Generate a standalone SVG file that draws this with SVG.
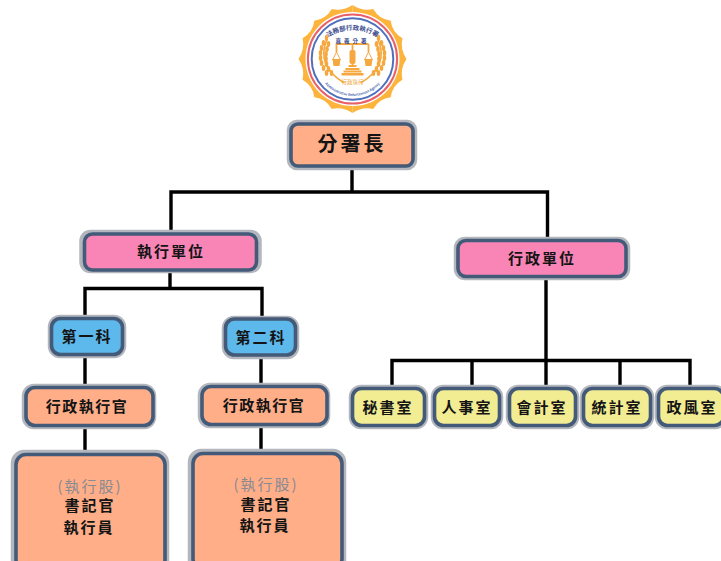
<svg xmlns="http://www.w3.org/2000/svg" xmlns:xlink="http://www.w3.org/1999/xlink" width="721" height="561" viewBox="0 0 721 561">
<style>
.halo{fill:none;stroke:#b3b7bd;stroke-width:6.500}
.box{stroke:#435a78;stroke-width:3.600}
.peach{fill:#ffae88}.pink{fill:#f985b6}.blue{fill:#5db8ec}.yellow{fill:#f2ec92}
text{font-family:"Noto Sans CJK TC","Noto Sans CJK SC",sans-serif;text-anchor:middle;fill:#141414;font-weight:700}
.t{font-size:15px;letter-spacing:2px}
.w{font-size:15px;letter-spacing:1.500px}
.lines{fill:none;stroke:#000;stroke-width:3.400}
.gold{fill:none;stroke:#f5a83f}
.goldf{fill:#f5a83f}
</style>
<defs>
<path id="q" fill="#fdb43c" d="M0,0L0,-54Q9.4,-47.5 20.7,-49.9Q26.8,-39.5 38.2,-38.2Q39.5,-26.8 49.9,-20.7Q47.5,-9.4 54,0Z"/>
<path id="arcTop" d="M-45,16A45,45 0 0 1 45,16"/>
<path id="arcBot" d="M-37,0A37,37 0 0 0 37,0"/>
<g id="wheat">
<path class="gold" stroke-width="1.600" d="M-26,-18C-32,-4 -29,12 -8,24"/>
<g class="goldf">
<ellipse cx="-26" cy="-21" rx="1.700" ry="3.200"/>
<ellipse cx="-29" cy="-16" rx="1.800" ry="2.900"/><ellipse cx="-24" cy="-15" rx="1.800" ry="2.900"/>
<ellipse cx="-31" cy="-11" rx="1.800" ry="2.900"/><ellipse cx="-25.500" cy="-10" rx="1.800" ry="2.900"/>
<ellipse cx="-32" cy="-6" rx="1.800" ry="2.900"/><ellipse cx="-26.500" cy="-5" rx="1.800" ry="2.900"/>
<ellipse cx="-32" cy="-1" rx="1.800" ry="2.900"/><ellipse cx="-26.500" cy="0" rx="1.800" ry="2.900"/>
<ellipse cx="-31" cy="4" rx="1.800" ry="2.900"/><ellipse cx="-26" cy="5" rx="1.800" ry="2.900"/>
<ellipse cx="-29" cy="9" rx="1.800" ry="2.900"/><ellipse cx="-24" cy="10" rx="1.800" ry="2.900"/>
<ellipse cx="-26" cy="14" rx="1.800" ry="2.900"/><ellipse cx="-21" cy="14" rx="1.800" ry="2.900"/>
</g>
</g>
</defs>
<rect width="721" height="561" fill="#fff"/>

<g id="logo" transform="translate(352.5,59)">
<use xlink:href="#q"/><use xlink:href="#q" transform="rotate(90)"/><use xlink:href="#q" transform="rotate(180)"/><use xlink:href="#q" transform="rotate(270)"/>
<circle r="47" fill="#fff"/>
<circle r="44.600" fill="none" stroke="#e8606a" stroke-width="2"/>
<circle r="40.800" fill="none" stroke="#5070bc" stroke-width="2"/>
<use xlink:href="#wheat"/><use xlink:href="#wheat" transform="scale(-1,1)"/>
<g class="gold" stroke-width="1.800">
<path d="M-16,-15H16M0,-15V8M-16,-15V-7M16,-15V-7"/>
<path d="M-16,-7L-20,1M-16,-7L-12,1M16,-7L12,1M16,-7L20,1" stroke-width="1"/>
</g>
<g class="goldf">
<rect x="-3" y="-9" width="6" height="14" rx="2"/>
<path d="M-20,0H-12L-13,7H-19ZM12,0H20L19,7H13Z"/>
<rect x="-4" y="6" width="8" height="2"/><rect x="-7" y="9" width="14" height="2"/>
<rect x="-9" y="11.500" width="18" height="2"/><rect x="-11" y="14" width="22" height="2.500"/>
</g>
<text font-size="6.500" style="fill:#3c4c90"><textPath xlink:href="#arcTop" startOffset="50%">法務部行政執行署</textPath></text>
<text y="-16.500" font-size="5.500" style="fill:#3c4c90;letter-spacing:3px">嘉義分署</text>
<text y="24.500" font-size="5.500" style="fill:#f0a030;font-weight:400">行政執行</text>
<text font-size="3.500" style="fill:#4a68b0"><textPath xlink:href="#arcBot" startOffset="50%">Administrative Enforcement Agency</textPath></text>
</g>

<g id="connectors" class="lines">
<path d="M352,168V192M171,232V192H547.500V238"/>
<path d="M170,272V288.500M85,316V288.500H262V316"/>
<path d="M85,356V386M85,427V453"/>
<path d="M261,357V385M261,426V452"/>
<path d="M546,278V360.500M392,385V360.500H690V385M472,360.500V385M546,360.500V385M620,360.500V385"/>
</g>

<g id="n-chief"><rect class="halo" x="290" y="123" width="124" height="44" rx="7"/><rect class="box peach" x="291" y="124" width="122" height="42" rx="7"/><text x="352" y="151" style="font-size:20px;letter-spacing:3px">分署長</text></g>
<g id="n-exec"><rect class="halo" x="82.500" y="233" width="176" height="37" rx="8"/><rect class="box pink" x="84.500" y="234" width="172" height="36" rx="8"/><text class="t" x="171" y="257">執行單位</text></g>
<g id="n-admin"><rect class="halo" x="457" y="240" width="170" height="37" rx="8"/><rect class="box pink" x="458" y="240.500" width="168" height="36" rx="8"/><text class="t" x="542" y="264">行政單位</text></g>
<g id="n-sec1"><rect class="halo" x="51" y="318" width="72" height="37" rx="9"/><rect class="box blue" x="51.500" y="318.500" width="71" height="36" rx="9"/><text class="t" x="87" y="342">第一科</text></g>
<g id="n-sec2"><rect class="halo" x="225" y="319" width="71" height="37" rx="9"/><rect class="box blue" x="225.500" y="319" width="70" height="36" rx="9"/><text class="t" x="261" y="343">第二科</text></g>
<g id="n-off1"><rect class="halo" x="25" y="387" width="128" height="39" rx="9"/><rect class="box peach" x="26" y="387.500" width="127" height="38" rx="9"/><text class="w" x="87" y="411.500">行政執行官</text></g>
<g id="n-off2"><rect class="halo" x="201" y="386" width="126" height="39" rx="9"/><rect class="box peach" x="202" y="386.500" width="125" height="38" rx="9"/><text class="w" x="264" y="410.500">行政執行官</text></g>
<g id="n-unit1"><rect class="halo" x="14" y="453" width="152" height="118" rx="10"/><rect class="box peach" x="16" y="454.500" width="149" height="115" rx="10"/><text class="t" x="90" y="492" style="fill:#8a8a92;font-weight:400">(執行股)</text><text class="t" x="90" y="511">書記官</text><text class="t" x="89" y="533">執行員</text></g>
<g id="n-unit2"><rect class="halo" x="191" y="452" width="152" height="118" rx="10"/><rect class="box peach" x="193" y="453.500" width="149" height="115" rx="10"/><text class="t" x="266" y="490" style="fill:#8a8a92;font-weight:400">(執行股)</text><text class="t" x="266" y="510">書記官</text><text class="t" x="265" y="531">執行員</text></g>
<g id="n-o1"><rect class="halo" x="352" y="388" width="73" height="38" rx="9"/><rect class="box yellow" x="352.500" y="388.500" width="72" height="37" rx="9"/><text class="t" x="388" y="412.500">秘書室</text></g>
<g id="n-o2"><rect class="halo" x="434" y="388" width="66" height="38" rx="9"/><rect class="box yellow" x="434.500" y="388.500" width="65" height="37" rx="9"/><text class="t" x="467" y="412.500">人事室</text></g>
<g id="n-o3"><rect class="halo" x="509" y="388" width="67" height="38" rx="9"/><rect class="box yellow" x="509.500" y="388.500" width="66" height="37" rx="9"/><text class="t" x="542" y="412.500">會計室</text></g>
<g id="n-o4"><rect class="halo" x="583" y="388" width="68" height="38" rx="9"/><rect class="box yellow" x="583.500" y="388.500" width="67" height="37" rx="9"/><text class="t" x="617" y="412.500">統計室</text></g>
<g id="n-o5"><rect class="halo" x="658" y="388" width="66" height="38" rx="9"/><rect class="box yellow" x="658.500" y="388.500" width="65" height="37" rx="9"/><text class="t" x="692" y="412.500">政風室</text></g>
</svg>
